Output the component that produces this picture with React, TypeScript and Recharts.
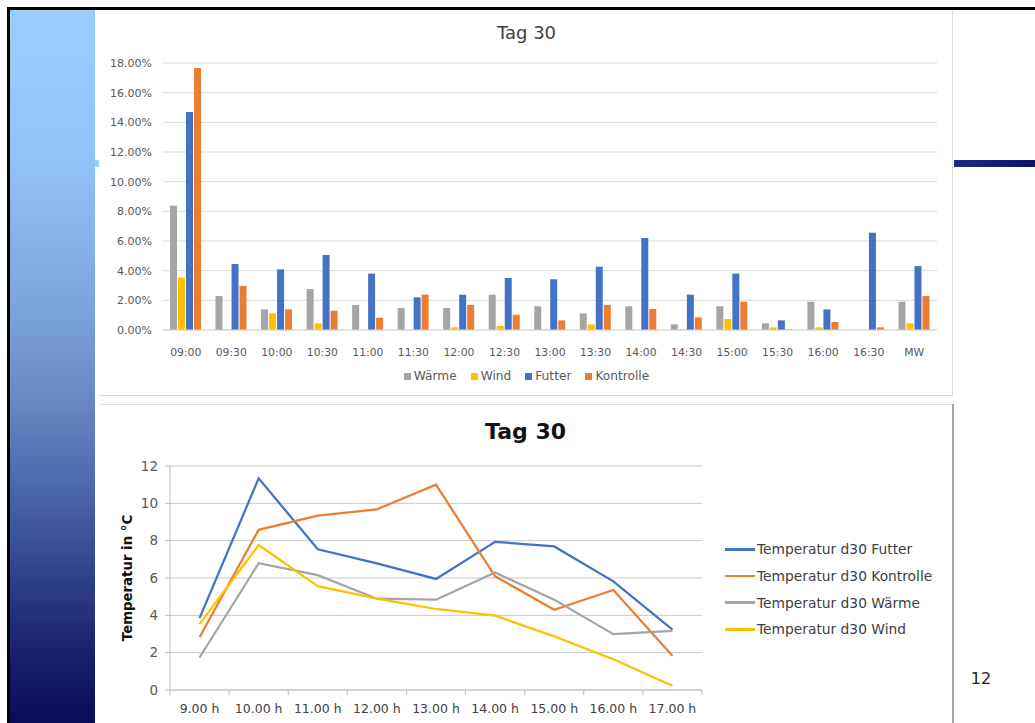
import React from 'react';
import { BarChart, Bar, LineChart, Line, XAxis, YAxis, CartesianGrid, Legend } from 'recharts';

const barCategories = ['09:00', '09:30', '10:00', '10:30', '11:00', '11:30', '12:00', '12:30', '13:00', '13:30', '14:00', '14:30', '15:00', '15:30', '16:00', '16:30', 'MW'];
const waerme = [8.38, 2.29, 1.39, 2.76, 1.69, 1.48, 1.48, 2.38, 1.6, 1.12, 1.6, 0.38, 1.6, 0.45, 1.91, 0, 1.91];
const wind = [3.53, 0.05, 1.12, 0.45, 0, 0.05, 0.18, 0.27, 0.05, 0.38, 0, 0.05, 0.74, 0.18, 0.18, 0, 0.45];
const futter = [14.7, 4.45, 4.09, 5.06, 3.8, 2.2, 2.38, 3.51, 3.42, 4.27, 6.2, 2.38, 3.8, 0.65, 1.39, 6.56, 4.31];
const kontrolle = [17.67, 2.97, 1.39, 1.3, 0.83, 2.38, 1.69, 1.03, 0.65, 1.69, 1.42, 0.85, 1.91, 0.05, 0.54, 0.18, 2.29];
const barTicks = [0, 2, 4, 6, 8, 10, 12, 14, 16, 18];
const barSeriesOrder = ['waerme', 'wind', 'futter', 'kontrolle'];

const hourLabels = ['9.00 h', '10.00 h', '11.00 h', '12.00 h', '13.00 h', '14.00 h', '15.00 h', '16.00 h', '17.00 h'];
const tFutter = [3.85, 11.34, 7.54, 6.78, 5.95, 7.94, 7.69, 5.82, 3.23];
const tKontrolle = [2.83, 8.58, 9.34, 9.68, 11.0, 6.09, 4.3, 5.36, 1.83];
const tWaerme = [1.74, 6.79, 6.15, 4.89, 4.84, 6.29, 4.84, 2.99, 3.17];
const tWind = [3.53, 7.76, 5.56, 4.89, 4.34, 3.98, 2.87, 1.65, 0.23];
const tempTicks = [0, 2, 4, 6, 8, 10, 12];
const lineSeriesOrder = ['futter', 'kontrolle', 'waerme', 'wind'];

const GRAY = '#A5A5A5';
const YELLOW = '#FFC000';
const BLUE = '#4472C4';
const ORANGE = '#ED7D31';
const FONT = '"DejaVu Sans", sans-serif';

const barData = barCategories.map((c, i) => ({
  cat: c,
  waerme: waerme[i],
  wind: wind[i],
  futter: futter[i],
  kontrolle: kontrolle[i],
}));

const tempData = hourLabels.map((h, i) => ({
  pos: i + 0.5,
  futter: tFutter[i],
  kontrolle: tKontrolle[i],
  waerme: tWaerme[i],
  wind: tWind[i],
}));

const LINE_W = 853;
const LINE_H = 318;
const LINE_LEFT = 70;
const LINE_RIGHT = 251;
const hourStep = (LINE_W - LINE_LEFT - LINE_RIGHT) / hourLabels.length;
const hourTickValues = hourLabels.map((_, i) => i).concat([hourLabels.length]);

const sortByOrder = (payload: any[], order: string[]) =>
  [...payload].sort((a, b) => order.indexOf(String(a.dataKey)) - order.indexOf(String(b.dataKey)));

const HourTick = (props: any) => {
  const { x, y, payload } = props;
  const i = payload.value;
  if (i >= hourLabels.length) return <g />;
  return (
    <text x={x + hourStep / 2} y={y} dy="0.71em" textAnchor="middle" fill="#404040" fontSize={12.5} fontFamily={FONT}>
      {hourLabels[i]}
    </text>
  );
};

const BarLegend = (props: any) => {
  const payload = sortByOrder(props.payload || [], barSeriesOrder);
  return (
    <div style={{ display: 'flex', justifyContent: 'center', fontSize: 12.2, color: '#595959', fontFamily: FONT, lineHeight: '16px' }}>
      {payload.map((e: any, i: number) => (
        <span key={i} style={{ display: 'flex', alignItems: 'center', marginRight: i < payload.length - 1 ? 14 : 0 }}>
          <span style={{ display: 'inline-block', width: 7, height: 7, background: e.color, marginRight: 3 }} />
          {e.value}
        </span>
      ))}
    </div>
  );
};

const LineLegend = (props: any) => {
  const payload = sortByOrder(props.payload || [], lineSeriesOrder);
  return (
    <div style={{ fontFamily: FONT, fontSize: 13.8, color: '#404040' }}>
      {payload.map((e: any, i: number) => (
        <div key={i} style={{ display: 'flex', alignItems: 'center', height: 26.7 }}>
          <span style={{ display: 'inline-block', width: 30, height: 2.5, background: e.color, marginRight: 2 }} />
          <span>{e.value}</span>
        </div>
      ))}
    </div>
  );
};

export default function App() {
  return (
    <div style={{ position: 'absolute', left: 0, top: 0, width: 1035, height: 723, overflow: 'hidden', background: '#ffffff', fontFamily: FONT }}>
      {/* left gradient band */}
      <div
        style={{
          position: 'absolute', left: 9, top: 9, width: 86, height: 714,
          background: 'linear-gradient(to bottom, #9acdff 0%, #92c4fa 20%, #7ea7e0 40%, #6586c2 56%, #3a4f9a 75%, #1a2070 90%, #0a0c5c 100%)',
        }}
      />
      {/* black frame */}
      <div style={{ position: 'absolute', left: 7, top: 7, width: 1028, height: 3, background: '#000' }} />
      <div style={{ position: 'absolute', left: 7, top: 7, width: 3, height: 716, background: '#000' }} />
      {/* decorative bars */}
      <div style={{ position: 'absolute', left: 95, top: 160, width: 4, height: 7, background: '#99ccff' }} />
      <div style={{ position: 'absolute', left: 954, top: 160, width: 81, height: 7, background: 'linear-gradient(to right, #1f2a80, #0f1468)' }} />

      {/* bar chart box */}
      <div style={{ position: 'absolute', left: 99, top: 10, width: 854, height: 386, borderRight: '1px solid #d9d9d9', borderBottom: '1px solid #d9d9d9', boxSizing: 'border-box' }} />
      <div style={{ position: 'absolute', left: 100, top: 10, width: 853, height: 387 }}>
        <div style={{ position: 'absolute', left: 0, top: 14, width: 853, textAlign: 'center', fontSize: 18, lineHeight: '18px', color: '#404040' }}>Tag 30</div>
        <BarChart
          width={853}
          height={387}
          data={barData}
          margin={{ top: 53, right: 16, left: 0, bottom: 37 }}
          barSize={7}
          barGap={1}
        >
          <CartesianGrid horizontal vertical={false} stroke="#d9d9d9" />
          <XAxis
            dataKey="cat"
            height={30}
            axisLine={{ stroke: '#d9d9d9' }}
            tickLine={false}
            tickSize={6}
            tickMargin={12}
            interval={0}
            tick={{ fill: '#595959', fontSize: 10.8, fontFamily: FONT }}
          />
          <YAxis
            width={63}
            domain={[0, 18]}
            ticks={barTicks}
            axisLine={false}
            tickLine={false}
            tickSize={6}
            tickMargin={5}
            tickFormatter={(v: number) => v.toFixed(2) + '%'}
            tick={{ fill: '#595959', fontSize: 11, fontFamily: FONT }}
          />
          <Legend
            layout="horizontal"
            align="center"
            verticalAlign="middle"
            content={<BarLegend />}
            wrapperStyle={{ left: 0, top: 358, width: 853 }}
          />
          <Bar dataKey="waerme" name="Wärme" fill={GRAY} isAnimationActive={false} />
          <Bar dataKey="wind" name="Wind" fill={YELLOW} isAnimationActive={false} />
          <Bar dataKey="futter" name="Futter" fill={BLUE} isAnimationActive={false} />
          <Bar dataKey="kontrolle" name="Kontrolle" fill={ORANGE} isAnimationActive={false} />
        </BarChart>
      </div>

      {/* line chart box */}
      <div style={{ position: 'absolute', left: 100, top: 404, width: 853, height: 1, background: '#e0e0e0' }} />
      <div style={{ position: 'absolute', left: 952, top: 404, width: 2, height: 319, background: '#a8a8a8' }} />
      <div style={{ position: 'absolute', left: 100, top: 405, width: LINE_W, height: LINE_H }}>
        <div style={{ position: 'absolute', left: 0, top: 16, width: LINE_W - 2, textAlign: 'center', fontSize: 22, lineHeight: '22px', fontWeight: 'bold', color: '#111' }}>Tag 30</div>
        <LineChart
          width={LINE_W}
          height={LINE_H}
          data={tempData}
          margin={{ top: 61, right: LINE_RIGHT, left: 0, bottom: 3 }}
        >
          <CartesianGrid horizontal vertical={false} stroke="#c8c8c8" />
          <XAxis
            dataKey="pos"
            type="number"
            domain={[0, hourLabels.length]}
            ticks={hourTickValues}
            height={30}
            axisLine={{ stroke: '#bfbfbf' }}
            tickLine={{ stroke: '#bfbfbf' }}
            tickSize={5}
            tickMargin={9}
            interval={0}
            tick={<HourTick />}
          />
          <YAxis
            width={LINE_LEFT}
            domain={[0, 12]}
            ticks={tempTicks}
            axisLine={{ stroke: '#bfbfbf' }}
            tickLine={{ stroke: '#bfbfbf' }}
            tickSize={5}
            tickMargin={7}
            tick={{ fill: '#595959', fontSize: 13.5, fontFamily: FONT }}
            label={{ value: 'Temperatur in °C', angle: -90, position: 'center', dx: -8, fill: '#111', fontSize: 13.3, fontWeight: 'bold', fontFamily: FONT }}
          />
          <Legend
            layout="vertical"
            align="center"
            verticalAlign="middle"
            content={<LineLegend />}
            wrapperStyle={{ left: 625, top: 131, width: 228 }}
          />
          <Line dataKey="futter" name="Temperatur d30 Futter" stroke={BLUE} strokeWidth={2.25} dot={false} isAnimationActive={false} />
          <Line dataKey="kontrolle" name="Temperatur d30 Kontrolle" stroke={ORANGE} strokeWidth={2.25} dot={false} isAnimationActive={false} />
          <Line dataKey="waerme" name="Temperatur d30 Wärme" stroke={GRAY} strokeWidth={2.25} dot={false} isAnimationActive={false} />
          <Line dataKey="wind" name="Temperatur d30 Wind" stroke={YELLOW} strokeWidth={2.25} dot={false} isAnimationActive={false} />
        </LineChart>
      </div>

      {/* page number */}
      <div style={{ position: 'absolute', left: 960, top: 670, width: 42, textAlign: 'center', fontSize: 16, lineHeight: '18px', color: '#222' }}>12</div>
    </div>
  );
}
